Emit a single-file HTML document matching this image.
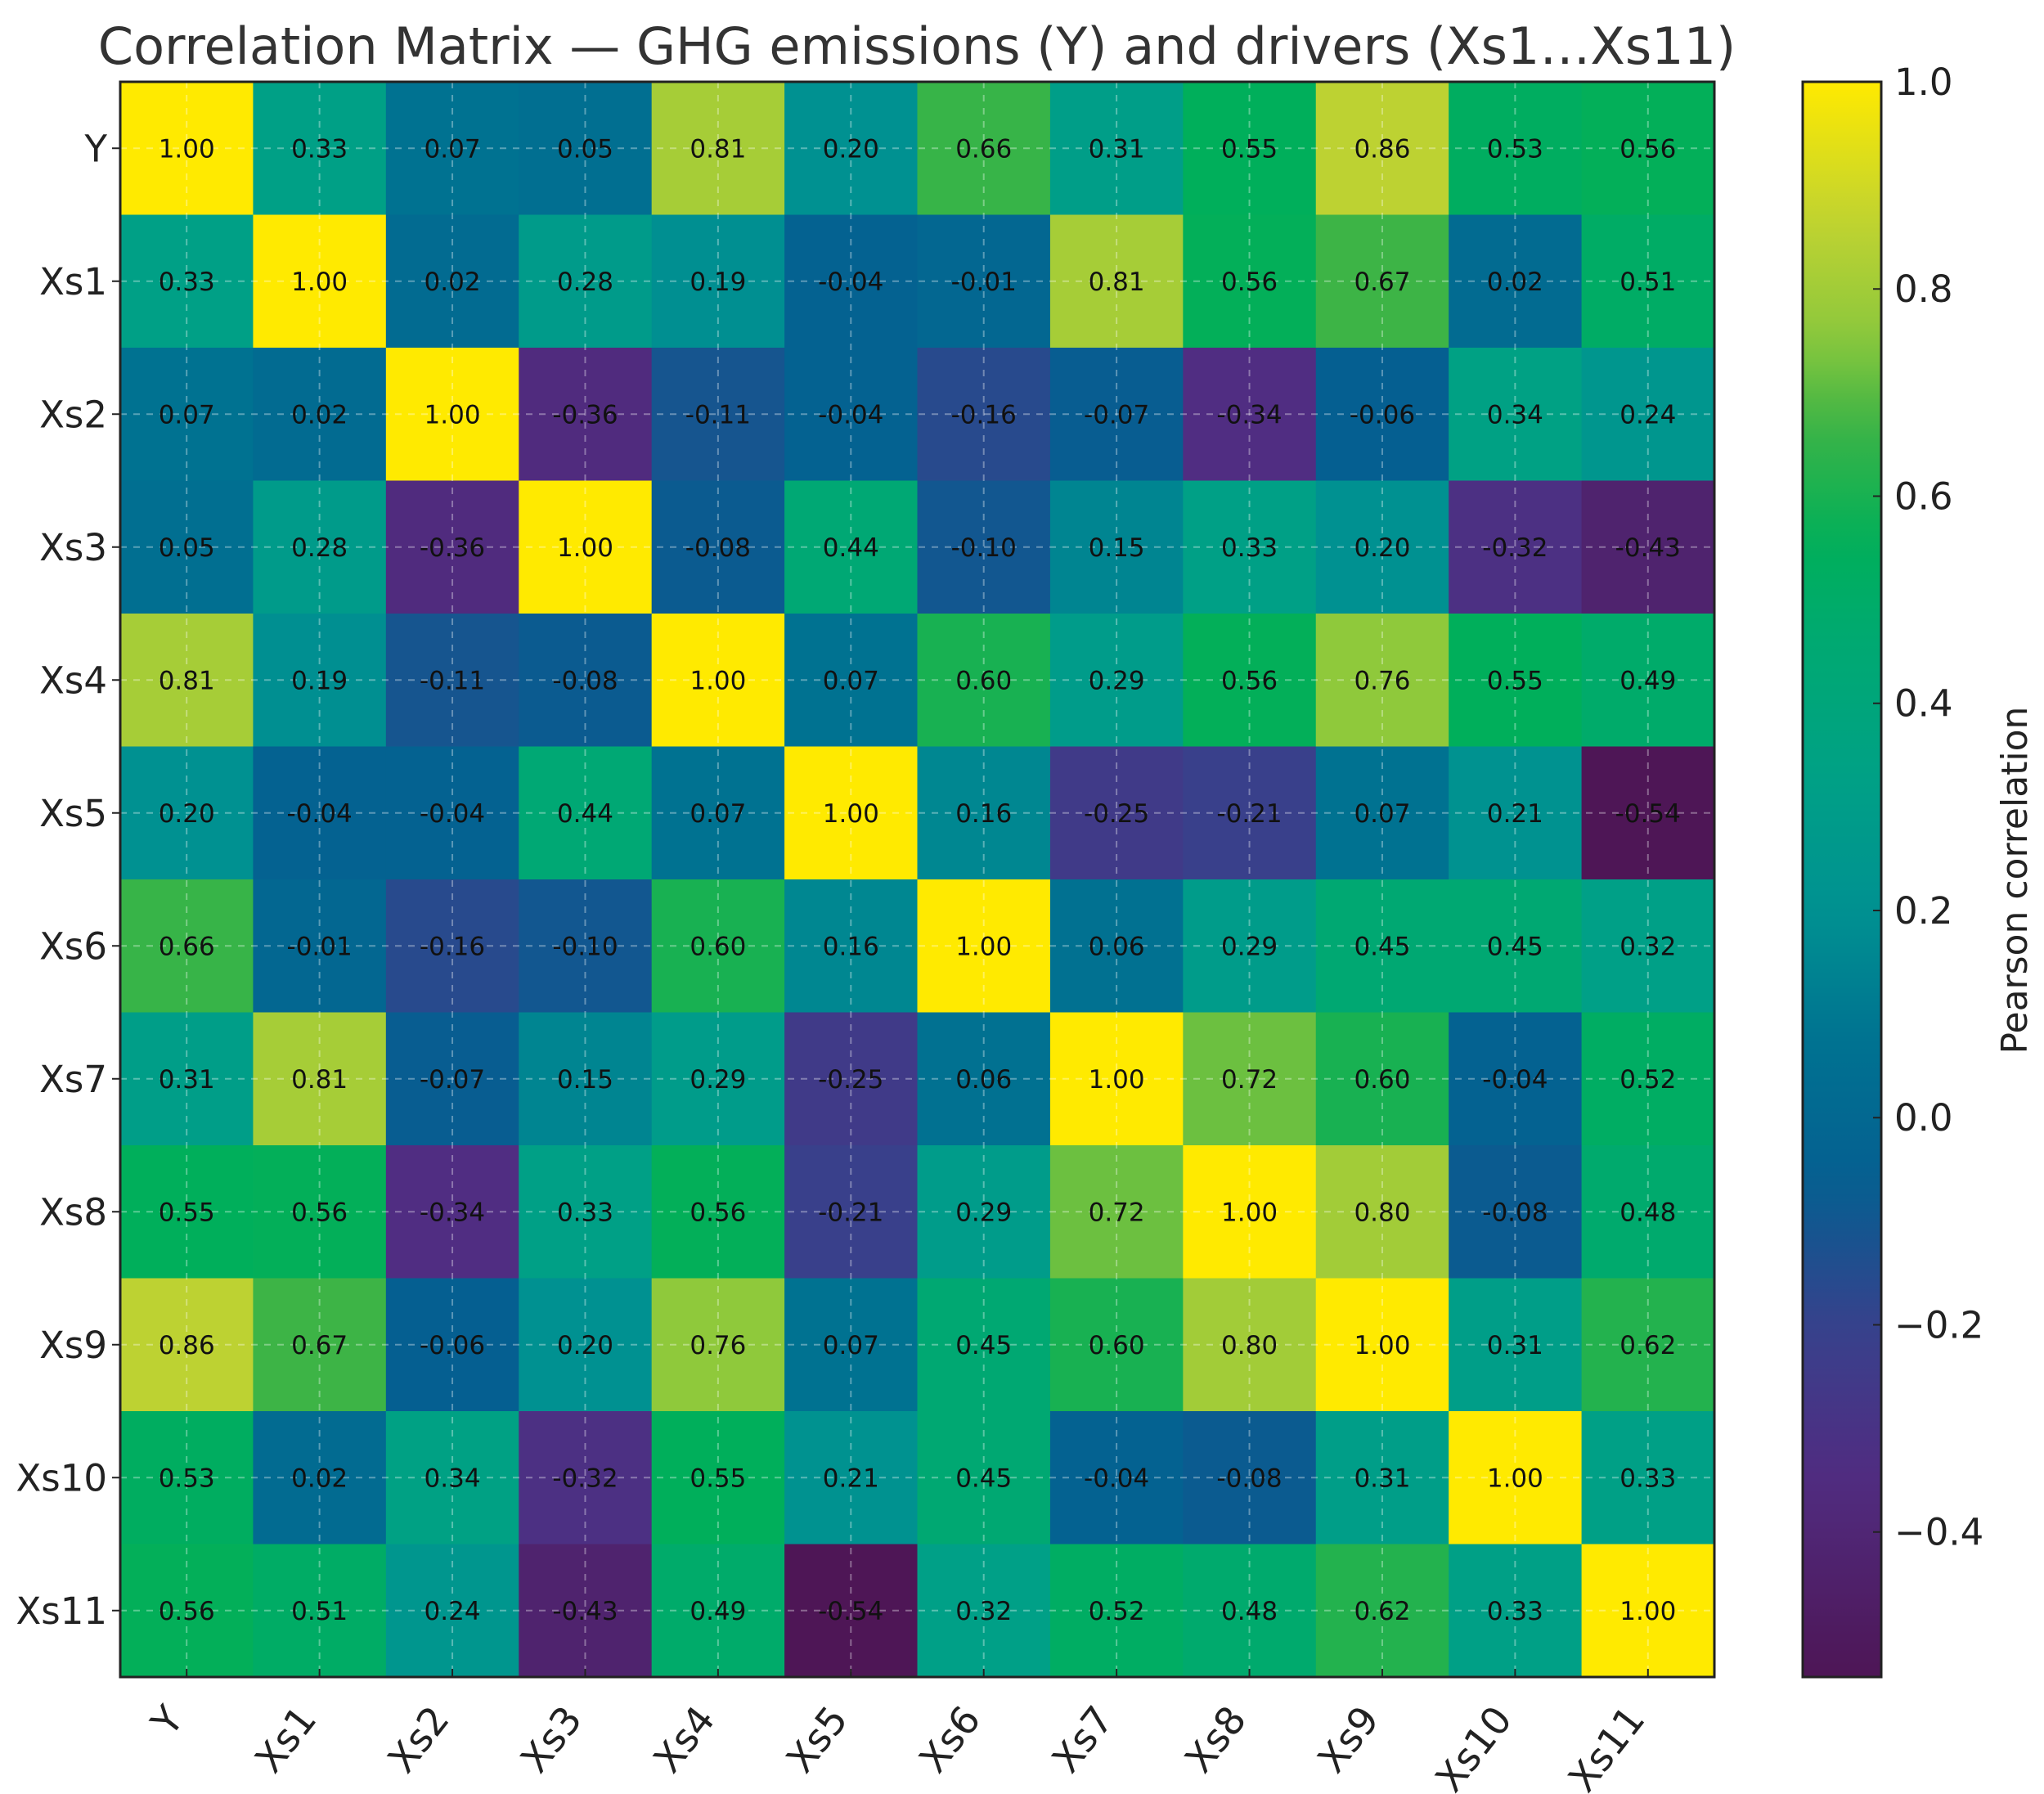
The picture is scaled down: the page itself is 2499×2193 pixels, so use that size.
<!DOCTYPE html>
<html><head><meta charset="utf-8"><style>
html,body{margin:0;padding:0;background:#fff;}
svg{display:block;font-family:"DejaVu Sans","Liberation Sans",sans-serif;}
</style></head><body>
<svg id="chart" width="2499" height="2193" viewBox="0 0 2499 2193" xmlns="http://www.w3.org/2000/svg">
<defs>
<linearGradient id="cbgrad" x1="0" y1="1" x2="0" y2="0"></linearGradient>
</defs>
<text x="1121" y="78" text-anchor="middle" font-size="62" fill="#333">Correlation Matrix — GHG emissions (Y) and drivers (Xs1…Xs11)</text>
<g id="cells"></g>
<g id="grid"></g>
<g id="vals"></g>
<g id="axes"></g>
<g id="cbar"></g>
</svg>
<script>
const labels = ["Y","Xs1","Xs2","Xs3","Xs4","Xs5","Xs6","Xs7","Xs8","Xs9","Xs10","Xs11"];
const rowY   = [1.00,0.33,0.07,0.05,0.81,0.20,0.66,0.31,0.55,0.86,0.53,0.56];
const rowXs1 = [0.33,1.00,0.02,0.28,0.19,-0.04,-0.01,0.81,0.56,0.67,0.02,0.51];
const rowXs2 = [0.07,0.02,1.00,-0.36,-0.11,-0.04,-0.16,-0.07,-0.34,-0.06,0.34,0.24];
const rowXs3 = [0.05,0.28,-0.36,1.00,-0.08,0.44,-0.10,0.15,0.33,0.20,-0.32,-0.43];
const rowXs4 = [0.81,0.19,-0.11,-0.08,1.00,0.07,0.60,0.29,0.56,0.76,0.55,0.49];
const rowXs5 = [0.20,-0.04,-0.04,0.44,0.07,1.00,0.16,-0.25,-0.21,0.07,0.21,-0.54];
const rowXs6 = [0.66,-0.01,-0.16,-0.10,0.60,0.16,1.00,0.06,0.29,0.45,0.45,0.32];
const rowXs7 = [0.31,0.81,-0.07,0.15,0.29,-0.25,0.06,1.00,0.72,0.60,-0.04,0.52];
const rowXs8 = [0.55,0.56,-0.34,0.33,0.56,-0.21,0.29,0.72,1.00,0.80,-0.08,0.48];
const rowXs9 = [0.86,0.67,-0.06,0.20,0.76,0.07,0.45,0.60,0.80,1.00,0.31,0.62];
const rowXs10= [0.53,0.02,0.34,-0.32,0.55,0.21,0.45,-0.04,-0.08,0.31,1.00,0.33];
const rowXs11= [0.56,0.51,0.24,-0.43,0.49,-0.54,0.32,0.52,0.48,0.62,0.33,1.00];
const matrix = [rowY,rowXs1,rowXs2,rowXs3,rowXs4,rowXs5,rowXs6,rowXs7,rowXs8,rowXs9,rowXs10,rowXs11];
const cbTicks = [-0.4,-0.2,0.0,0.2,0.4,0.6,0.8,1.0];
const vmin = -0.54, vmax = 1.0;

const NS="http://www.w3.org/2000/svg";
const L=147,R=2096,T=100,B=2050;
const n=labels.length, cw=(R-L)/n, ch=(B-T)/n;
const xc=i=>L+(i+0.5)*cw, yc=j=>T+(j+0.5)*ch;
const CBL=2204,CBR=2300;
const cbY=v=>B-(v-vmin)/(vmax-vmin)*(B-T);

const cmap=[[0,[78,22,86]],[0.13,[80,45,130]],[0.22,[55,65,140]],[0.31,[5,95,145]],[0.40,[0,115,145]],[0.48,[0,145,145]],[0.56,[0,160,135]],[0.66,[0,170,110]],[0.71,[0,175,90]],[0.785,[60,180,70]],[0.84,[140,200,60]],[0.91,[190,210,50]],[1,[255,234,0]]];
function color(v){let t=(v-vmin)/(vmax-vmin);t=Math.max(0,Math.min(1,t));let i=0;while(i<cmap.length-2&&t>cmap[i+1][0])i++;const a=cmap[i],b=cmap[i+1];const f=(t-a[0])/(b[0]-a[0]);const c=a[1].map((x,k)=>Math.round(x+(b[1][k]-x)*f));return `rgb(${c[0]},${c[1]},${c[2]})`;}
function mk(tag,attrs,parent){const e=document.createElementNS(NS,tag);for(const k in attrs)e.setAttribute(k,attrs[k]);parent.appendChild(e);return e;}

const gC=document.getElementById('cells'),gG=document.getElementById('grid'),gV=document.getElementById('vals'),gA=document.getElementById('axes'),gB=document.getElementById('cbar');
matrix.forEach((row,j)=>row.forEach((v,i)=>{
  const r=mk('rect',{x:L+i*cw,y:T+j*ch,width:cw+0.6,height:ch+0.6,fill:color(v)},gC);
  
  
  const t=mk('text',{x:xc(i),y:yc(j)+11,'text-anchor':'middle','font-size':31,fill:'#111'},gV);
  
  
  t.textContent=v.toFixed(2);
}));
for(let i=0;i<n;i++){
  mk('line',{x1:xc(i),y1:T,x2:xc(i),y2:B,stroke:'rgba(255,255,255,0.35)','stroke-width':2,'stroke-dasharray':'8 8'},gG);
  mk('line',{x1:L,y1:yc(i),x2:R,y2:yc(i),stroke:'rgba(255,255,255,0.35)','stroke-width':2,'stroke-dasharray':'8 8'},gG);
  mk('line',{x1:L-10,y1:yc(i),x2:L,y2:yc(i),stroke:'#222','stroke-width':2},gA);
  mk('line',{x1:xc(i),y1:B,x2:xc(i),y2:B-10,stroke:'#222','stroke-width':2},gA);
  const yl=mk('text',{x:L-16,y:yc(i)+16,'text-anchor':'end','font-size':45,fill:'#222'},gA);
  
  
  yl.textContent=labels[i];
  const xl=mk('text',{'text-anchor':'end','font-size':47,fill:'#222',transform:`translate(${xc(i)-2},${B+52}) rotate(-52)`},gA);
  
  
  xl.textContent=labels[i];
}
mk('rect',{x:L,y:T,width:R-L,height:B-T,fill:'none',stroke:'#222','stroke-width':3},gA);

const grad=document.getElementById('cbgrad');
for(let k=0;k<=40;k++){const v=vmin+(vmax-vmin)*k/40;mk('stop',{offset:k/40,'stop-color':color(v)},grad);}
const cb=mk('rect',{x:CBL,y:T,width:CBR-CBL,height:B-T,fill:'url(#cbgrad)',stroke:'#222','stroke-width':3},gB);


cbTicks.forEach(v=>{
  const y=cbY(v);
  mk('line',{x1:CBR-10,y1:y,x2:CBR,y2:y,stroke:'#222','stroke-width':2},gB);
  const t=mk('text',{x:CBR+16,y:y+16,'font-size':45,fill:'#222'},gB);
  
  
  t.textContent=(v<0?'\u2212':'')+Math.abs(v).toFixed(1);
});
const cl=mk('text',{'text-anchor':'middle','font-size':44,fill:'#222',transform:'translate(2478,1076) rotate(-90)'},gB);


cl.textContent='Pearson correlation';
</script>
</body></html>
